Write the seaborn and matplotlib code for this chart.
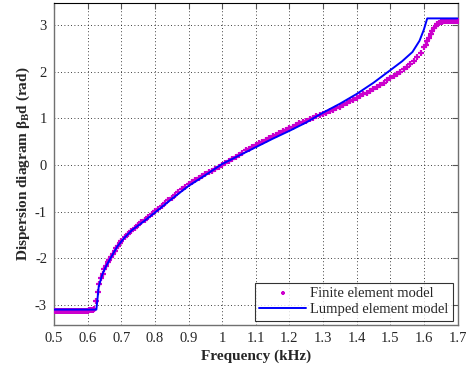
import numpy as np
import pandas as pd
import matplotlib
matplotlib.use("Agg")
import matplotlib.pyplot as plt
import seaborn as sns

# ---------------- data ----------------
fem_freq = [0.50, 0.505, 0.51, 0.515, 0.52, 0.525, 0.53, 0.535, 0.54, 0.545,
            0.55, 0.555, 0.56, 0.565, 0.57, 0.575, 0.58, 0.585, 0.59, 0.595,
            0.60, 0.605, 0.61, 0.615, 0.62, 0.625, 0.63, 0.635, 0.64, 0.645,
            0.65, 0.655, 0.66, 0.665, 0.67, 0.675, 0.68, 0.685, 0.69, 0.695,
            0.70, 0.71, 0.72, 0.73, 0.74, 0.75,
            0.76, 0.77, 0.78, 0.79, 0.80, 0.81, 0.82, 0.83, 0.84, 0.85,
            0.86, 0.87, 0.88, 0.89, 0.90, 0.91, 0.92, 0.93, 0.94, 0.95,
            0.96, 0.97, 0.98, 0.99, 1.00, 1.01, 1.02, 1.03, 1.04, 1.05,
            1.06, 1.07, 1.08, 1.09, 1.10, 1.11, 1.12, 1.13, 1.14, 1.15,
            1.16, 1.17, 1.18, 1.19, 1.20, 1.21, 1.22, 1.23, 1.24, 1.25,
            1.26, 1.27, 1.28, 1.29, 1.30, 1.31, 1.32, 1.33, 1.34, 1.35,
            1.36, 1.37, 1.38, 1.39, 1.40, 1.41, 1.42, 1.43, 1.44, 1.45,
            1.46, 1.47, 1.48, 1.49, 1.50, 1.51, 1.52, 1.53, 1.54, 1.55,
            1.56, 1.57, 1.58, 1.59, 1.60, 1.605, 1.61, 1.615, 1.62, 1.625,
            1.63, 1.635, 1.64, 1.645, 1.65, 1.655, 1.66, 1.665, 1.67, 1.675,
            1.68, 1.685, 1.69, 1.695, 1.70]
fem_beta = [-3.12, -3.12, -3.12, -3.12, -3.12, -3.12, -3.12, -3.12, -3.12, -3.12,
            -3.12, -3.12, -3.12, -3.12, -3.12, -3.12, -3.12, -3.12, -3.12, -3.12,
            -3.12, -3.11, -3.11, -3.10, -3.08, -2.92, -2.72, -2.56, -2.43, -2.33,
            -2.24, -2.16, -2.09, -2.03, -1.97, -1.91, -1.85, -1.79, -1.73, -1.68,
            -1.63, -1.55, -1.47, -1.41, -1.35, -1.29,
            -1.23, -1.17, -1.11, -1.05, -0.99, -0.94, -0.88, -0.82, -0.76, -0.70,
            -0.64, -0.58, -0.52, -0.47, -0.41, -0.37, -0.32, -0.28, -0.24, -0.20,
            -0.16, -0.12, -0.08, -0.04, 0.00, 0.04, 0.09, 0.13, 0.18, 0.22,
            0.26, 0.31, 0.35, 0.39, 0.43, 0.47, 0.50, 0.54, 0.57, 0.61,
            0.65, 0.68, 0.72, 0.75, 0.79, 0.82, 0.85, 0.89, 0.92, 0.95,
            0.98, 1.01, 1.04, 1.06, 1.09, 1.12, 1.15, 1.18, 1.22, 1.25,
            1.29, 1.32, 1.36, 1.40, 1.44, 1.48, 1.51, 1.55, 1.59, 1.63,
            1.67, 1.72, 1.76, 1.81, 1.86, 1.90, 1.95, 2.00, 2.05, 2.10,
            2.16, 2.23, 2.31, 2.40, 2.52, 2.58, 2.65, 2.72, 2.80, 2.87,
            2.93, 2.98, 3.02, 3.04, 3.06, 3.07, 3.08, 3.08, 3.08, 3.08,
            3.08, 3.08, 3.08, 3.08, 3.08]

lumped_freq = [0.50, 0.60, 0.626, 0.633, 0.643, 0.654, 0.668, 0.688, 0.708,
               0.733, 0.767, 0.80, 0.85, 0.90, 0.95, 1.00, 1.05, 1.10, 1.15,
               1.20, 1.25, 1.30, 1.35, 1.40, 1.45, 1.50, 1.535, 1.566, 1.587,
               1.60, 1.61, 1.65, 1.70]
lumped_beta = [-3.10, -3.10, -3.10, -2.61, -2.36, -2.18, -2.00, -1.75, -1.57,
               -1.39, -1.21, -1.02, -0.73, -0.45, -0.22, 0.02, 0.20, 0.38, 0.56,
               0.73, 0.91, 1.12, 1.31, 1.52, 1.76, 2.03, 2.22, 2.42, 2.66,
               2.90, 3.14, 3.14, 3.14]

x_ticks = [0.5, 0.6, 0.7, 0.8, 0.9, 1.0, 1.1, 1.2, 1.3, 1.4, 1.5, 1.6, 1.7]
x_tick_labels = ["0.5", "0.6", "0.7", "0.8", "0.9", "1", "1.1", "1.2", "1.3", "1.4", "1.5", "1.6", "1.7"]
y_ticks = [-3, -2, -1, 0, 1, 2, 3]

fem_df = pd.DataFrame({"f": fem_freq, "b": fem_beta})
lump_df = pd.DataFrame({"f": lumped_freq, "b": lumped_beta})

# ---------------- style ----------------
sns.set_style("white")
plt.rcParams["font.family"] = ["Liberation Serif", "DejaVu Serif"]
plt.rcParams["axes.unicode_minus"] = False
plt.rcParams["mathtext.fontset"] = "custom"
plt.rcParams["mathtext.rm"] = "Liberation Serif"
plt.rcParams["mathtext.it"] = "Liberation Serif:italic"
plt.rcParams["mathtext.bf"] = "Liberation Serif:bold"

fig = plt.figure(figsize=(4.66, 3.70), dpi=100)
ax = fig.add_axes([54 / 466, (370 - 325) / 370, (457.5 - 54) / 466, (325 - 3) / 370])

sns.scatterplot(data=fem_df, x="f", y="b", ax=ax, marker="+", s=22,
                color="#CC00CC", linewidth=1.6, label="Finite element model", zorder=3)
sns.lineplot(data=lump_df, x="f", y="b", ax=ax, color="#0000FF", linewidth=1.4,
             label="Lumped element model", zorder=4, estimator=None, sort=False)

ax.set_xlim(0.5, 1.7)
ax.set_ylim(-3.43, 3.47)
ax.set_xticks(x_ticks)
ax.set_xticklabels(x_tick_labels)
ax.set_yticks(y_ticks)
ax.grid(True, color="black", linestyle=(0, (1, 3)), linewidth=0.6)
ax.tick_params(axis="both", direction="in", length=4, width=0.8, labelsize=10.5,
               top=True, right=True, color="#555555", pad=5)
for side in ["left", "bottom", "right"]:
    ax.spines[side].set_color("#707070")
    ax.spines[side].set_linewidth(1.0)
ax.spines["top"].set_color("black")

ax.set_xlabel("Frequency (kHz)", fontsize=11, fontweight="bold", labelpad=3)
ax.set_ylabel(r"Dispersion diagram β$_{\mathbf{B}}$d (rad)", fontsize=11,
              fontweight="bold", labelpad=2)

leg = ax.legend(loc="lower right", frameon=True, fancybox=False, fontsize=10.5,
                handlelength=3.2, borderpad=0.3, labelspacing=0.2,
                handletextpad=0.3, borderaxespad=0.3, markerscale=0.7)
leg.get_frame().set_edgecolor("black")
leg.get_frame().set_linewidth(0.8)

fig.savefig("out.png", dpi=100)
